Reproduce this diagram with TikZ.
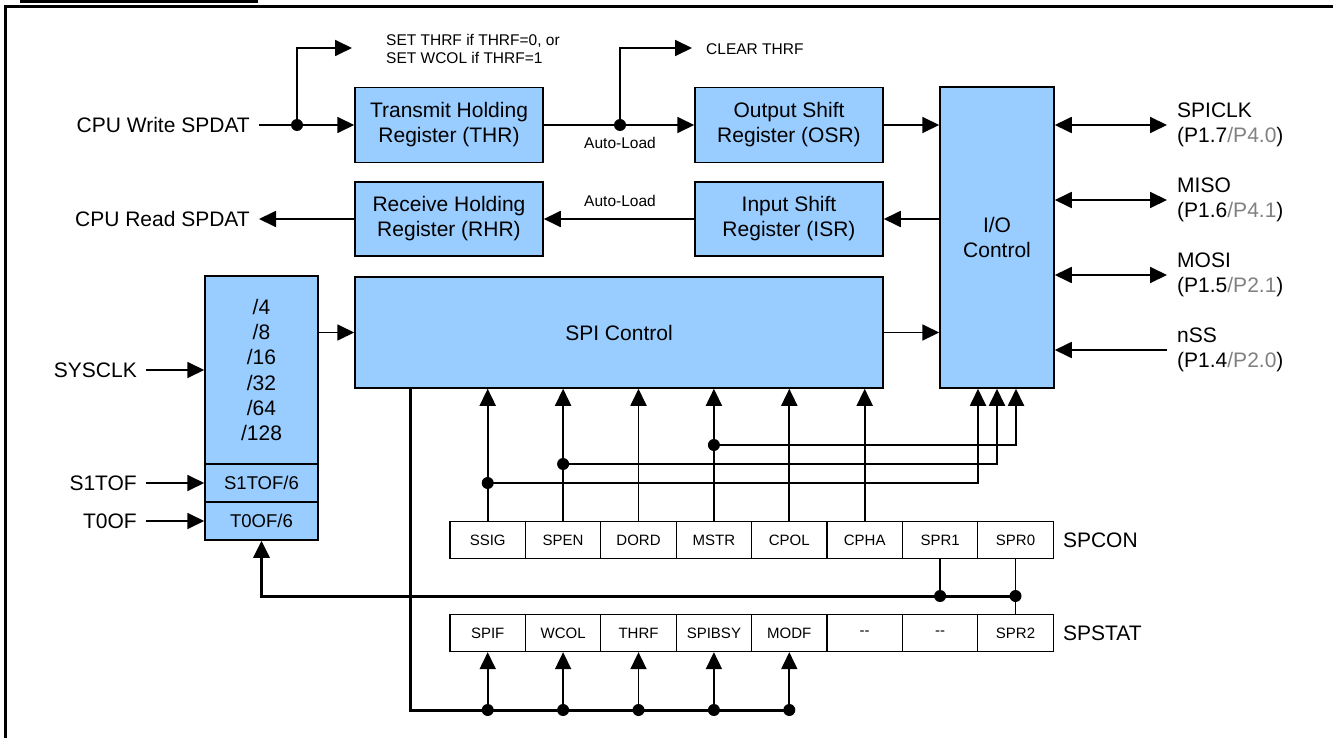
\documentclass[tikz,border=0pt]{standalone}
\usepackage{fontspec}
\setmainfont{Liberation Sans}
\usetikzlibrary{calc, arrows.meta}

\begin{document}
\begin{tikzpicture}[x=1pt, y=-1pt]
  % Define colours
  \definecolor{blockFill}{HTML}{99CCFF}
  \definecolor{pinGrey}{HTML}{808080}

  % Define styles
  \tikzset{
    block/.style={draw, line width=1.5pt, fill=blockFill, align=center, inner sep=0pt, font=\fontsize{21}{25}\selectfont},
    bitcell/.style={draw, line width=1.3pt, minimum width=75.4pt, minimum height=37pt, inner sep=0pt, font=\fontsize{15}{18}\selectfont},
    sig/.style={inner xsep=9pt, inner ysep=2pt, font=\fontsize{21}{25}\selectfont},
    pinlabel/.style={inner xsep=10pt, align=left, font=\fontsize{21}{25}\selectfont},
    note/.style={inner sep=0pt, align=left, font=\fontsize{15.5}{18}\selectfont},
    wire/.style={line width=1.8pt},
    bus/.style={line width=3pt},
    tip/.style={-{Triangle[length=17pt,width=16pt]}},
    tips/.style={{Triangle[length=17pt,width=16pt]}-{Triangle[length=17pt,width=16pt]}},
  }

  \useasboundingbox (0,0) rectangle (1335,738);

  % Draw the frame
  \draw[line width=2.6pt] (20,1.3) -- (258,1.3);
  \draw[line width=2.6pt] (5.3,738) -- (5.3,6.5) -- (1333,6.5);

  % Draw the blocks
  \node[block, minimum width=188pt, minimum height=75pt] (thr) at (449,125) {Transmit Holding\\Register (THR)};
  \node[block, minimum width=188pt, minimum height=75pt] (osr) at (789,125) {Output Shift\\Register (OSR)};
  \node[block, minimum width=188pt, minimum height=74pt] (rhr) at (449,219) {Receive Holding\\Register (RHR)};
  \node[block, minimum width=188pt, minimum height=74pt] (isr) at (789,219) {Input Shift\\Register (ISR)};
  \node[block, minimum width=114pt, minimum height=301pt] (ioc) at (997,237.5) {I/O\\Control};
  \node[block, minimum width=528pt, minimum height=111pt] (spi) at (619,332.5) {SPI Control};
  \node[block, minimum width=113pt, minimum height=188pt, font=\fontsize{21}{25.3}\selectfont] (div) at (261.5,370) {/4\\/8\\/16\\/32\\/64\\/128};
  \node[block, minimum width=113pt, minimum height=38pt, font=\fontsize{18.5}{22}\selectfont] (s1div) at (261.5,483) {S1TOF/6};
  \node[block, minimum width=113pt, minimum height=38pt, font=\fontsize{18.5}{22}\selectfont] (t0div) at (261.5,521) {T0OF/6};

  % Draw the register rows
  \foreach \name [count=\i] in {SSIG,SPEN,DORD,MSTR,CPOL,CPHA,SPR1,SPR0}
    \node[bitcell] (con\i) at ({450+75.4*(\i-0.5)},540) {\name};
  \foreach \name [count=\i] in {SPIF,WCOL,THRF,SPIBSY,MODF,-{}-,-{}-,SPR2}
    \node[bitcell] (stat\i) at ({450+75.4*(\i-0.5)},633) {\name};
  \node[sig, anchor=west] (spcon) at (con8.east) {SPCON};
  \node[sig, anchor=west] (spstat) at (stat8.east) {SPSTAT};

  % Label the signals
  \node[sig, anchor=east] (cpuw) at (259,125) {CPU Write SPDAT};
  \node[sig, anchor=east] (cpur) at (259,219) {CPU Read SPDAT};
  \node[sig, anchor=east] (sysclk) at (146,370) {SYSCLK};
  \node[sig, anchor=east] (s1tof) at (146,483) {S1TOF};
  \node[sig, anchor=east] (t0of) at (146,521) {T0OF};
  \node[pinlabel, anchor=west] (sclk) at (1167,125) {SPICLK\\(P1.7\textcolor{pinGrey}{/P4.0})};
  \node[pinlabel, anchor=west] (miso) at (1167,200) {MISO\\(P1.6\textcolor{pinGrey}{/P4.1})};
  \node[pinlabel, anchor=west] (mosi) at (1167,275) {MOSI\\(P1.5\textcolor{pinGrey}{/P2.1})};
  \node[pinlabel, anchor=west] (nss) at (1167,350) {nSS\\(P1.4\textcolor{pinGrey}{/P2.0})};
  \node[note, anchor=west] (setnote) at (386,49) {SET THRF if THRF=0, or\\SET WCOL if THRF=1};
  \node[note, anchor=west] (clrnote) at (706,49) {CLEAR THRF};
  \node[note] (alw) at (620,143) {Auto-Load};
  \node[note] (alr) at (620,201) {Auto-Load};

  % Draw the data path
  \coordinate (wj) at (297,125);
  \coordinate (setend) at (352,48);
  \coordinate (tj) at (620,125);
  \coordinate (clrend) at (692,48);
  \draw[wire, tip] (cpuw.east) -- (thr);
  \draw[wire, tip] (wj) |- (setend);
  \draw[wire, tip] (thr) -- (osr);
  \draw[wire, tip] (tj) |- (clrend);
  \fill (wj) circle (6pt);
  \fill (tj) circle (6pt);
  \draw[wire, tip] (osr) -- (osr -| ioc.west);
  \draw[wire, tip] (ioc.west |- isr) -- (isr);
  \draw[wire, tip] (isr) -- (rhr);
  \draw[wire, tip] (rhr) -- (cpur.east);
  \draw[wire, tip] (div.east |- spi) -- (spi);
  \draw[wire, tip] (spi) -- (spi -| ioc.west);
  \draw[wire, tip] (sysclk) -- (sysclk -| div.west);
  \draw[wire, tip] (s1tof) -- (s1div);
  \draw[wire, tip] (t0of) -- (t0div);

  % Draw the pins
  \draw[wire, tips] (ioc.east |- sclk) -- (sclk.west);
  \draw[wire, tips] (ioc.east |- miso) -- (miso.west);
  \draw[wire, tips] (ioc.east |- mosi) -- (mosi.west);
  \draw[wire, tip] (nss.west) -- (ioc.east |- nss);

  % SPCON bits into SPI Control
  \foreach \i in {1,...,6}
    \draw[wire, tip] (con\i) -- (con\i |- spi.south);

  % SSIG, SPEN and MSTR into I/O Control
  \coordinate (x1) at (con1 |- 0,483);
  \coordinate (x2) at (con2 |- 0,464);
  \coordinate (x3) at (con4 |- 0,445);
  \draw[wire, tip] (x1) -| ($(ioc.south)+(-19,0)$);
  \draw[wire, tip] (x2) -| (ioc.south);
  \draw[wire, tip] (x3) -| ($(ioc.south)+(19,0)$);
  \foreach \p in {x1,x2,x3}
    \fill (\p) circle (6pt);

  % Clock select bus
  \coordinate (b1) at (con7 |- 0,596);
  \coordinate (b2) at (con8 |- 0,596);
  \draw[wire] (con7) -- (b1);
  \draw[wire] (con8) -- (stat8);
  \draw[bus, tip] (b2) -| (t0div);
  \fill (b1) circle (6pt);
  \fill (b2) circle (6pt);

  % Status bus
  \coordinate (sd) at ($(spi.south west)+(56,0)$);
  \coordinate (e5) at (stat5 |- 0,710);
  \draw[bus] (sd) |- (e5);
  \foreach \i in {1,...,5} {
    \coordinate (e\i) at (stat\i |- 0,710);
    \draw[wire, tip] (e\i) -- (stat\i);
    \fill (e\i) circle (6pt);
  }
\end{tikzpicture}
\end{document}
